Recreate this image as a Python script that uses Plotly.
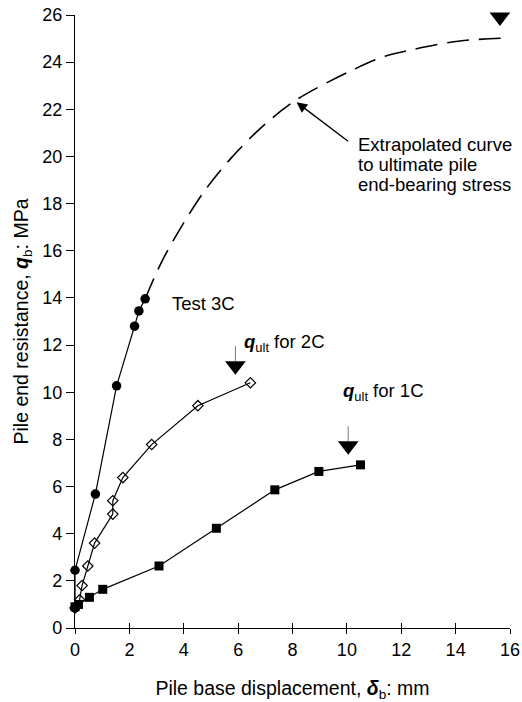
import plotly.graph_objects as go

# Test 3C (filled circles)
t3c_x = [0.0, 0.0, 0.75, 1.53, 2.19, 2.35, 2.58]
t3c_y = [0.85, 2.45, 5.68, 10.27, 12.8, 13.45, 13.96]
# Test 2C (open diamonds)
t2c_x = [0.0, 0.17, 0.26, 0.47, 0.72, 1.39, 1.39, 1.76, 2.82, 4.52, 6.45]
t2c_y = [0.85, 1.2, 1.8, 2.63, 3.6, 4.83, 5.4, 6.38, 7.78, 9.43, 10.4]
# Test 1C (filled squares)
t1c_x = [0.0, 0.13, 0.53, 1.02, 3.09, 5.2, 7.35, 8.97, 10.5]
t1c_y = [0.9, 1.0, 1.3, 1.64, 2.63, 4.23, 5.86, 6.64, 6.92]
# Extrapolated curve (dashed)
ext_x = [2.58, 3.17, 3.85, 4.77, 5.75, 6.91, 8.14, 10.0, 11.4, 12.44, 14.16, 16.2]
ext_y = [13.96, 15.49, 16.9, 18.55, 19.94, 21.29, 22.4, 23.55, 24.25, 24.54, 24.9, 25.04]
# q_ult markers (down triangles): 3C, 2C, 1C
qult_x = [15.63, 5.9, 10.05]
qult_y = [25.92, 11.12, 7.73]

FONT = "Liberation Sans, Arial, sans-serif"

fig = go.Figure()
fig.add_trace(go.Scatter(x=ext_x, y=ext_y, mode="lines",
                         line=dict(color="black", width=1.6, dash="22px,10px", shape="spline", smoothing=0.9),
                         cliponaxis=False, showlegend=False))
fig.add_trace(go.Scatter(x=t1c_x, y=t1c_y, mode="lines+markers",
                         line=dict(color="black", width=1.2),
                         marker=dict(symbol="square", size=9, color="black"),
                         cliponaxis=False, showlegend=False))
fig.add_trace(go.Scatter(x=t2c_x, y=t2c_y, mode="lines+markers",
                         line=dict(color="black", width=1.2),
                         marker=dict(symbol="diamond-open", size=8, color="black", line=dict(width=1.2)),
                         cliponaxis=False, showlegend=False))
fig.add_trace(go.Scatter(x=t3c_x, y=t3c_y, mode="lines+markers",
                         line=dict(color="black", width=1.2),
                         marker=dict(symbol="circle", size=9.5, color="black"),
                         cliponaxis=False, showlegend=False))
fig.add_trace(go.Scatter(x=qult_x, y=qult_y, mode="markers",
                         marker=dict(symbol="triangle-down", size=18, color="black"),
                         cliponaxis=False, showlegend=False))
# thin stems above 2C and 1C triangles
for i in (1, 2):
    fig.add_shape(type="line", x0=qult_x[i], x1=qult_x[i], y0=qult_y[i] + 0.2, y1=qult_y[i] + 0.83,
                  line=dict(color="#555", width=0.8))

annots = [
    dict(x=3.48, y=13.76, text="Test 3C", xanchor="left", showarrow=False),
    dict(x=6.15, y=12.1, text="<b><i>q</i></b><sub>ult</sub> for 2C", xanchor="left", showarrow=False),
    dict(x=9.8, y=10.03, text="<b><i>q</i></b><sub>ult</sub> for 1C", xanchor="left", showarrow=False),
    dict(x=10.35, y=20.51, text="Extrapolated curve", xanchor="left", showarrow=False),
    dict(x=10.35, y=19.66, text="to ultimate pile", xanchor="left", showarrow=False),
    dict(x=10.35, y=18.81, text="end-bearing stress", xanchor="left", showarrow=False),
    dict(x=8.15, y=22.3, ax=10.1, ay=20.6, axref="x", ayref="y", text="",
         showarrow=True, arrowhead=2, arrowsize=1.5, arrowwidth=1.4, arrowcolor="black"),
]
for a in annots:
    a.setdefault("font", dict(family=FONT, size=18.5, color="black"))
    fig.add_annotation(**a)

fig.update_layout(
    width=522, height=702,
    margin=dict(l=75, r=12, t=15, b=74),
    paper_bgcolor="white", plot_bgcolor="white",
    font=dict(family=FONT, size=18, color="black"),
    xaxis=dict(range=[0, 16], dtick=2, showgrid=False, zeroline=False, automargin=False,
               showline=True, linecolor="black", linewidth=1.3,
               ticks="outside", ticklen=5, tickwidth=1.2, tickcolor="black",
               tickfont=dict(size=18),
               title=dict(text="Pile base displacement, <b><i>δ</i></b><sub>b</sub>: mm",
                          font=dict(size=19.5), standoff=28)),
    xaxis2=dict(range=[0, 16], dtick=2, overlaying="x", matches="x", showgrid=False, zeroline=False,
                automargin=False, showticklabels=False, ticks="inside", ticklen=5, tickwidth=1.2,
                tickcolor="black", side="bottom", anchor="y"),
    yaxis=dict(range=[0, 26], dtick=2, showgrid=False, zeroline=False, automargin=False,
               showline=True, linecolor="black", linewidth=1.3,
               ticks="outside", ticklen=8, tickwidth=1.2, tickcolor="black",
               tickfont=dict(size=18),
               title=dict(text="Pile end resistance, <b><i>q</i></b><sub>b</sub>: MPa",
                          font=dict(size=19.5), standoff=8)),
)
# dummy trace to show xaxis2 ticks
fig.add_trace(go.Scatter(x=[None], y=[None], xaxis="x2", showlegend=False))

fig.write_html("out.html")
